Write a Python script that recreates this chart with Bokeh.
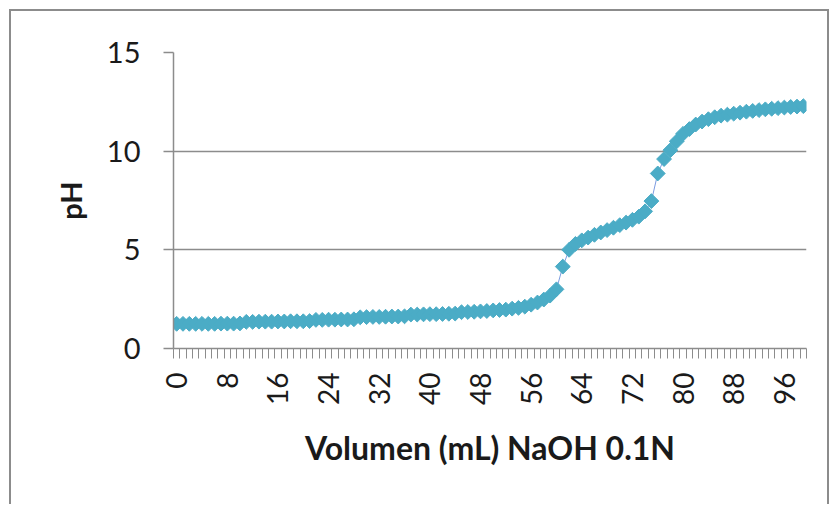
import math

from bokeh.embed import file_html
from bokeh.models import FixedTicker, Range1d
from bokeh.plotting import figure
from bokeh.resources import INLINE

# Titration curve: pH against added volume of 0.1 N NaOH (one reading per mL)
volume_ml = list(range(100))
ph_values = [
    1.25, 1.25, 1.25, 1.25, 1.25, 1.25, 1.25, 1.26, 1.26, 1.26,
    1.27, 1.35, 1.35, 1.36, 1.36, 1.36, 1.37, 1.37, 1.38, 1.38,
    1.38, 1.39, 1.45, 1.45, 1.46, 1.46, 1.47, 1.47, 1.48, 1.58,
    1.59, 1.60, 1.60, 1.61, 1.62, 1.62, 1.63, 1.72, 1.72, 1.73,
    1.74, 1.74, 1.75, 1.76, 1.77, 1.84, 1.85, 1.86, 1.88, 1.90,
    1.93, 1.95, 1.97, 2.02, 2.06, 2.12, 2.22, 2.33, 2.48, 2.68,
    3.00, 4.15, 5.00, 5.30, 5.48, 5.62, 5.76, 5.88, 6.00, 6.12,
    6.25, 6.38, 6.52, 6.68, 6.95, 7.47, 8.87, 9.60, 10.05, 10.50,
    10.88, 11.12, 11.35, 11.50, 11.62, 11.72, 11.80, 11.85, 11.90, 11.95,
    12.00, 12.04, 12.08, 12.12, 12.15, 12.18, 12.21, 12.24, 12.26, 12.28,
]
x_tick_values = list(range(0, 100, 8))
y_tick_values = [0, 5, 10, 15]

x_title = "Volumen (mL) NaOH 0.1N"
y_title = "pH"

GRAY = "#8c8c8c"
TEXT = "#1a1a1a"
MARK = "#4bacc6"
FONT = "Lato"

p = figure(
    width=820,
    height=495,
    output_backend="svg",
    toolbar_location=None,
    x_range=Range1d(-0.5, 99.5),
    y_range=Range1d(0, 15),
    min_border_left=162,
    min_border_right=25,
    min_border_top=41,
    min_border_bottom=158,
    margin=(9, 0, 0, 9),
)
p.styles = {
    "border-top": f"2px solid {GRAY}",
    "border-left": f"2px solid {GRAY}",
    "border-right": f"2px solid {GRAY}",
}
p.outline_line_color = None
p.background_fill_color = "white"
p.border_fill_color = "white"

# horizontal gridlines only
p.xgrid.grid_line_color = None
p.ygrid.grid_line_color = GRAY
p.ygrid.grid_line_width = 1.5

# category-style x axis: tick marks between categories, labels every 8 mL
xa = p.xaxis[0]
xa.ticker = FixedTicker(ticks=x_tick_values, minor_ticks=[i - 0.5 for i in range(101)])
xa.major_tick_out = 0
xa.major_tick_in = 0
xa.minor_tick_out = 10
xa.minor_tick_in = 0
xa.minor_tick_line_color = GRAY
xa.axis_line_color = GRAY
xa.axis_line_width = 1.5
xa.major_label_orientation = math.pi / 2
xa.major_label_standoff = 14
xa.major_label_text_font = FONT
xa.major_label_text_font_size = "28px"
xa.major_label_text_color = TEXT
xa.axis_label = x_title
xa.axis_label_text_font = FONT
xa.axis_label_text_font_style = "bold"
xa.axis_label_text_font_size = "32px"
xa.axis_label_text_color = TEXT
xa.axis_label_standoff = 20

ya = p.yaxis[0]
ya.ticker = FixedTicker(ticks=y_tick_values, minor_ticks=[])
ya.major_tick_out = 10
ya.major_tick_in = 0
ya.major_tick_line_color = GRAY
ya.major_tick_line_width = 1.5
ya.axis_line_color = GRAY
ya.axis_line_width = 1.5
ya.major_label_standoff = 23
ya.major_label_text_font = FONT
ya.major_label_text_font_size = "29px"
ya.major_label_text_color = TEXT
ya.axis_label = y_title
ya.axis_label_text_font = FONT
ya.axis_label_text_font_style = "bold"
ya.axis_label_text_font_size = "29px"
ya.axis_label_text_color = TEXT
ya.axis_label_standoff = 16

# connecting line under the diamond markers
p.line(volume_ml, ph_values, line_color="#7b9be0", line_width=1)
p.scatter(
    volume_ml, ph_values,
    marker="square", angle=math.pi / 4, size=10.5,
    fill_color=MARK, line_color=MARK, line_width=1,
)

open("out.html", "w").write(file_html(p, INLINE))
